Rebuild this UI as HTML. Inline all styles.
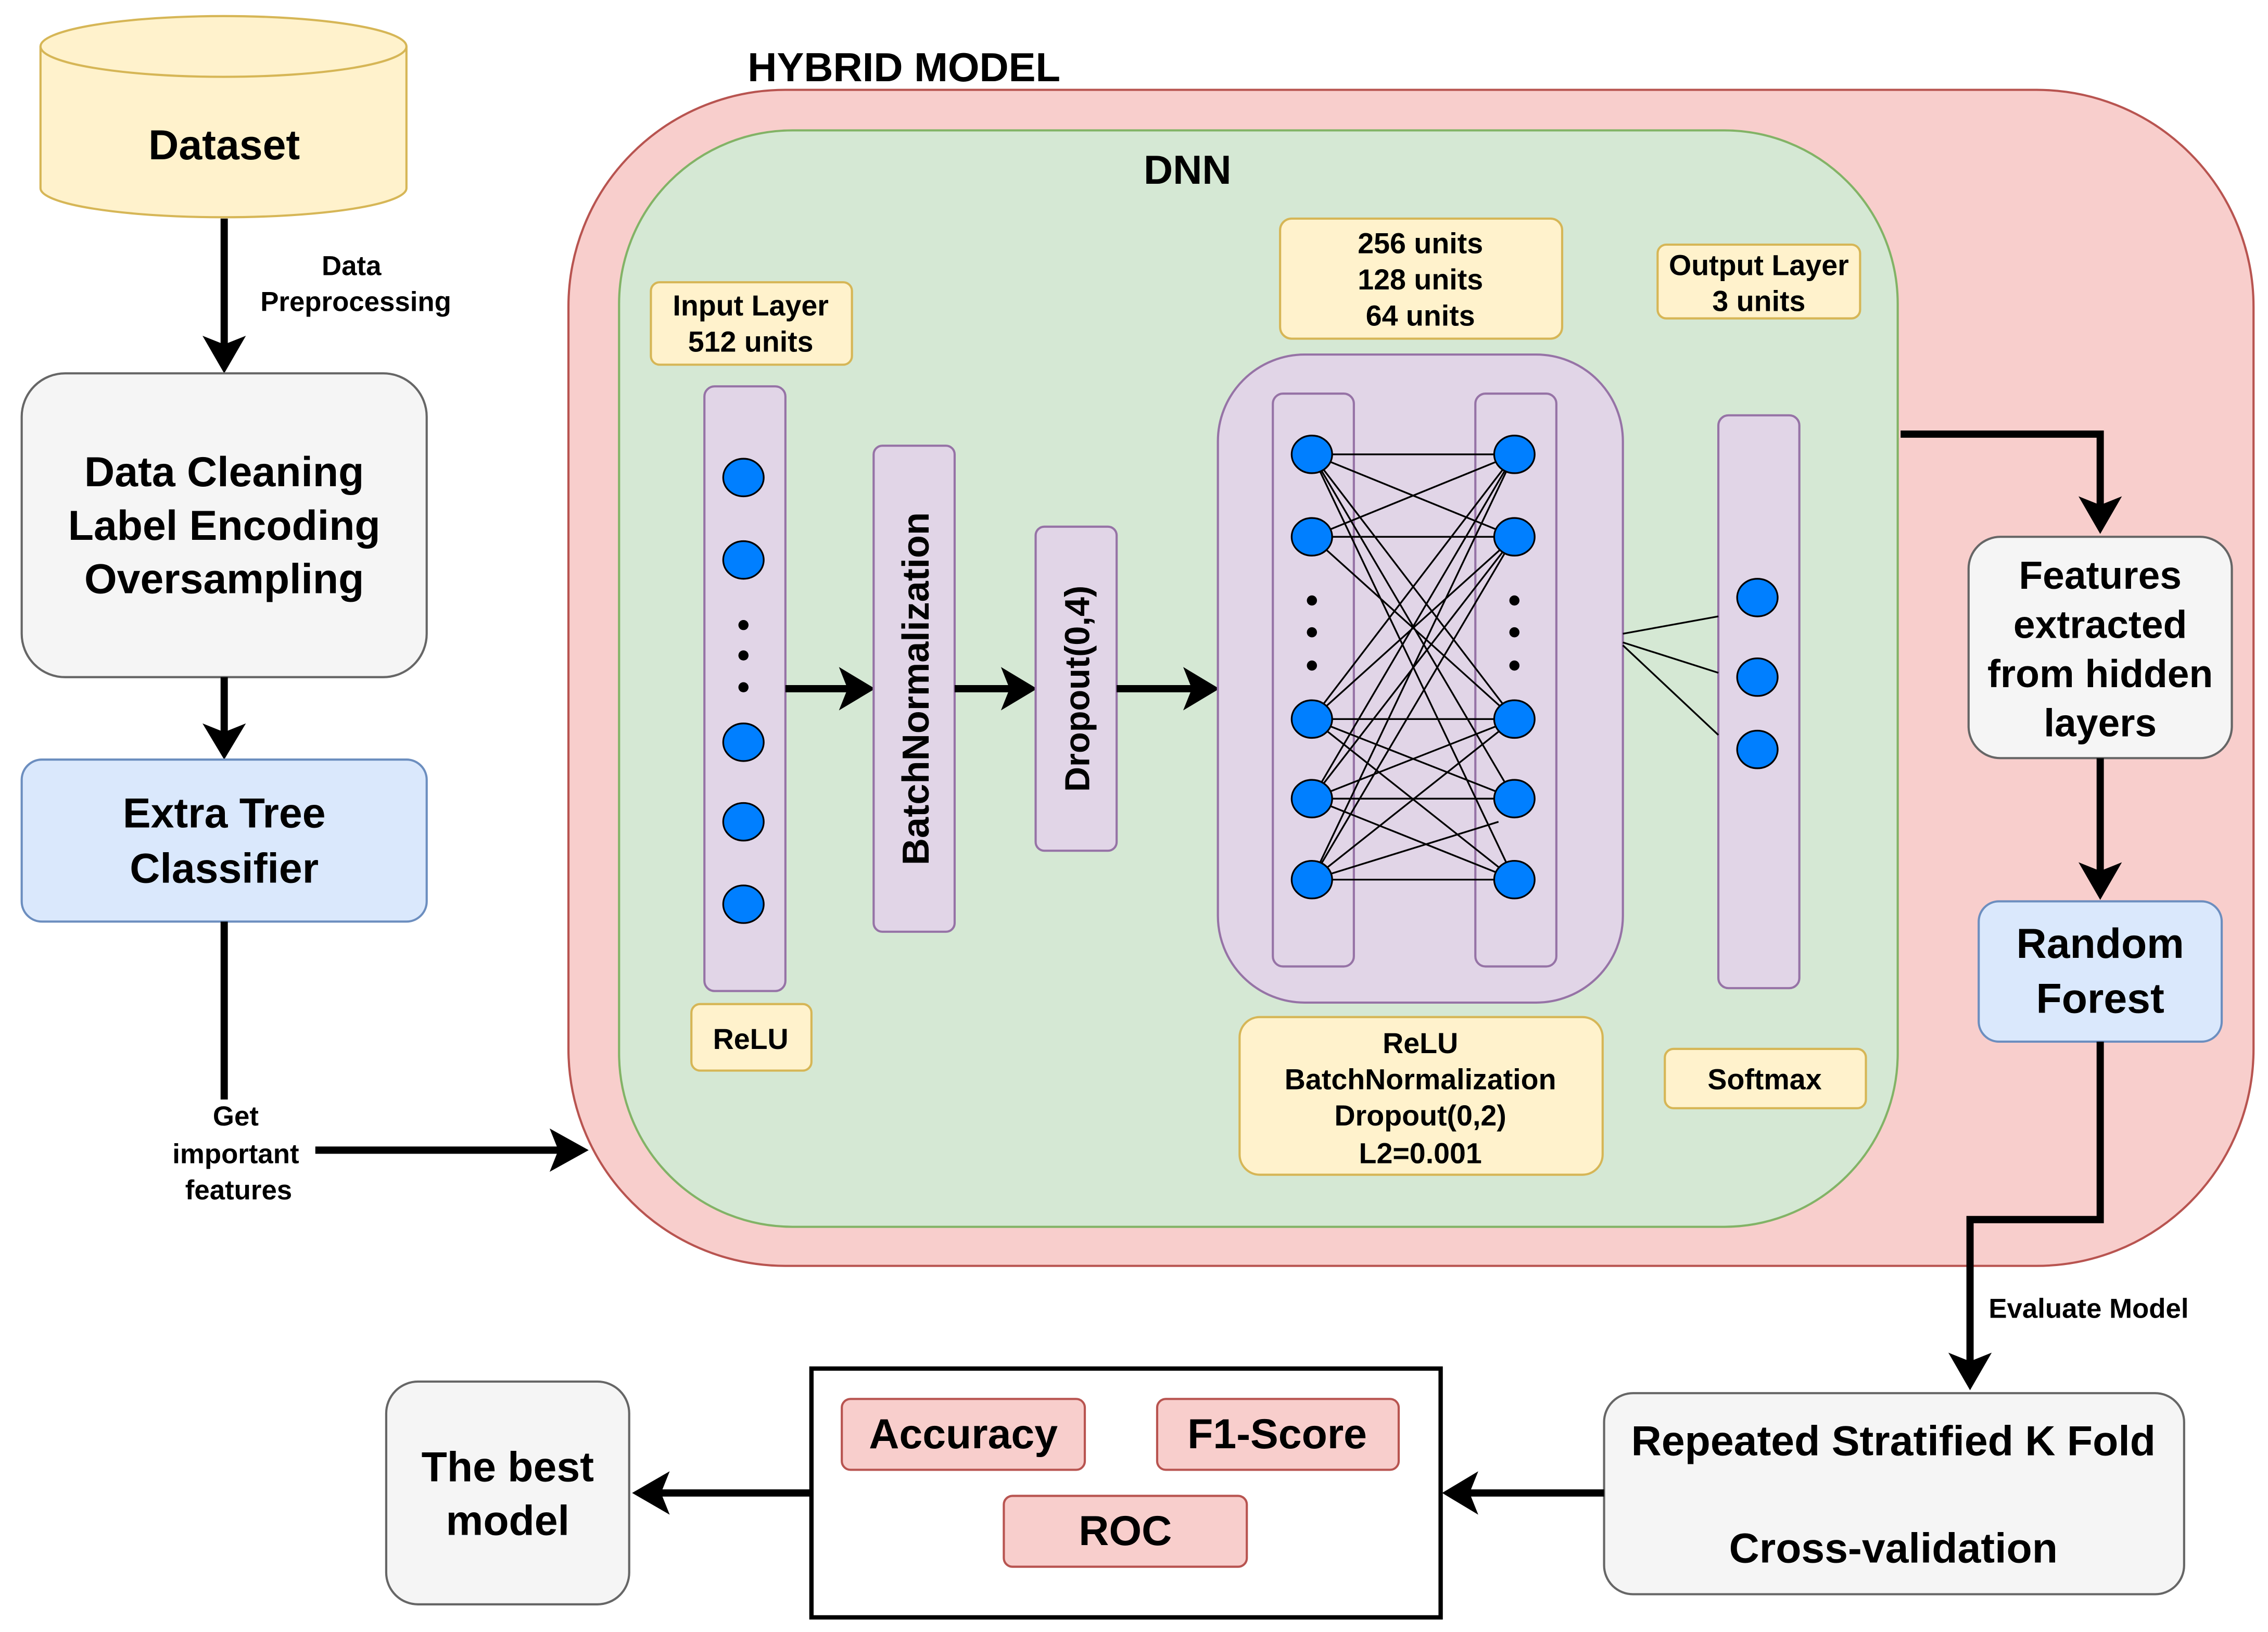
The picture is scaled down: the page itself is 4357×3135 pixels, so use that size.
<!DOCTYPE html>
<html><head><style>html,body{margin:0;padding:0;background:#fff}svg{display:block}text{font-family:"Liberation Sans",sans-serif;font-weight:bold;fill:#000}</style></head>
<body>
<svg width="4357" height="3135" viewBox="0 0 1568 1128" xmlns="http://www.w3.org/2000/svg">
<defs>
<marker id="ah" markerWidth="10" markerHeight="10" refX="6" refY="5" orient="auto" markerUnits="userSpaceOnUse" viewBox="0 0 10 10"><path d="M0,0 L10,5 L0,10 L3,5 Z" fill="#000"/></marker>
</defs>
<rect width="1568" height="1128" fill="#fff"/>
<!-- Dataset cylinder -->
<path d="M28,32 L28,130 A126,20 0 0 0 281,130 L281,32" fill="#fff2cc" stroke="#d6b656" stroke-width="1.5"/>
<ellipse cx="154.5" cy="32" rx="126.5" ry="21" fill="#fff2cc" stroke="#d6b656" stroke-width="1.5"/>
<text x="155" y="110" font-size="29" text-anchor="middle">Dataset</text>
<line x1="155" y1="151" x2="155" y2="238" stroke="#000" stroke-width="5"/>
<path d="M140,232 L155,258 L170,232 L155,238Z"/>
<text x="243" y="190" font-size="19" text-anchor="middle">Data</text>
<text x="246" y="215" font-size="19" text-anchor="middle">Preprocessing</text>
<rect x="15" y="258" width="280" height="210" rx="30" fill="#f5f5f5" stroke="#666" stroke-width="1.5"/>
<text x="155" y="336" font-size="29" text-anchor="middle">Data Cleaning</text>
<text x="155" y="373" font-size="29" text-anchor="middle">Label Encoding</text>
<text x="155" y="410" font-size="29" text-anchor="middle">Oversampling</text>
<line x1="155" y1="468" x2="155" y2="508" stroke="#000" stroke-width="5"/>
<path d="M140,500 L155,525 L170,500 L155,506Z"/>
<rect x="15" y="525" width="280" height="112" rx="14" fill="#dae8fc" stroke="#6c8ebf" stroke-width="1.5"/>
<text x="155" y="572" font-size="29" text-anchor="middle">Extra Tree</text>
<text x="155" y="610" font-size="29" text-anchor="middle">Classifier</text>
<line x1="155" y1="637" x2="155" y2="760" stroke="#000" stroke-width="5"/>
<text x="163" y="778" font-size="19" text-anchor="middle">Get</text>
<text x="163" y="804" font-size="19" text-anchor="middle">important</text>
<text x="165" y="829" font-size="19" text-anchor="middle">features</text>
<line x1="218" y1="795" x2="388" y2="795" stroke="#000" stroke-width="5"/>
<path d="M380,780 L407,795 L380,810 L386,795Z"/>
<!-- Hybrid -->
<text x="625" y="56" font-size="28" text-anchor="middle">HYBRID MODEL</text>
<rect x="393" y="62" width="1165" height="813" rx="150" fill="#f8cecc" stroke="#b85450" stroke-width="1.5"/>
<rect x="428" y="90" width="884" height="758" rx="120" fill="#d5e8d4" stroke="#82b366" stroke-width="1.5"/>
<text x="821" y="127" font-size="28" text-anchor="middle">DNN</text>
<!-- input -->
<rect x="450" y="195" width="139" height="57" rx="6" fill="#fff2cc" stroke="#d6b656" stroke-width="1.5"/>
<text x="519" y="218" font-size="20" text-anchor="middle">Input Layer</text>
<text x="519" y="243" font-size="20" text-anchor="middle">512 units</text>
<rect x="487" y="267" width="56" height="418" rx="7" fill="#e1d5e7" stroke="#9673a6" stroke-width="1.5"/>
<g fill="#007fff" stroke="#000" stroke-width="1.2">
<ellipse cx="514" cy="330" rx="14" ry="13"/><ellipse cx="514" cy="387" rx="14" ry="13"/><ellipse cx="514" cy="513" rx="14" ry="13"/><ellipse cx="514" cy="568" rx="14" ry="13"/><ellipse cx="514" cy="625" rx="14" ry="13"/>
</g>
<g fill="#000"><circle cx="514" cy="432" r="3.5"/><circle cx="514" cy="453" r="3.5"/><circle cx="514" cy="475" r="3.5"/></g>
<rect x="478" y="694" width="83" height="46" rx="6" fill="#fff2cc" stroke="#d6b656" stroke-width="1.5"/>
<text x="519" y="725" font-size="20" text-anchor="middle">ReLU</text>
<line x1="543" y1="476" x2="588" y2="476" stroke="#000" stroke-width="5"/>
<path d="M580,461 L605,476 L580,491 L586,476Z"/>
<rect x="604" y="308" width="56" height="336" rx="6" fill="#e1d5e7" stroke="#9673a6" stroke-width="1.5"/>
<text transform="translate(642,476) rotate(-90)" font-size="26" text-anchor="middle">BatchNormalization</text>
<line x1="660" y1="476" x2="700" y2="476" stroke="#000" stroke-width="5"/>
<path d="M692,461 L717,476 L692,491 L698,476Z"/>
<rect x="716" y="364" width="56" height="224" rx="6" fill="#e1d5e7" stroke="#9673a6" stroke-width="1.5"/>
<text transform="translate(753,476) rotate(-90)" font-size="24" text-anchor="middle">Dropout(0,4)</text>
<line x1="772" y1="476" x2="826" y2="476" stroke="#000" stroke-width="5"/>
<path d="M818,461 L843,476 L818,491 L824,476Z"/>
<!-- hidden -->
<rect x="885" y="151" width="195" height="83" rx="8" fill="#fff2cc" stroke="#d6b656" stroke-width="1.5"/>
<text x="982" y="175" font-size="20" text-anchor="middle">256 units</text>
<text x="982" y="200" font-size="20" text-anchor="middle">128 units</text>
<text x="982" y="225" font-size="20" text-anchor="middle">64 units</text>
<rect x="842" y="245" width="280" height="448" rx="60" fill="#e1d5e7" stroke="#9673a6" stroke-width="1.5"/>
<rect x="880" y="272" width="56" height="396" rx="7" fill="#e1d5e7" stroke="#9673a6" stroke-width="1.5"/>
<rect x="1020" y="272" width="56" height="396" rx="7" fill="#e1d5e7" stroke="#9673a6" stroke-width="1.5"/>
<g stroke="#000" stroke-width="1.2">
<path d="M907,314 L1047,314 M907,314 L1047,371 M907,314 L1047,497 M907,314 L1047,552 M907,314 L1047,608
M907,371 L1047,314 M907,371 L1047,371 M907,371 L1047,497
M907,497 L1047,314 M907,497 L1047,371 M907,497 L1047,497 M907,497 L1047,552 M907,497 L1047,608
M907,552 L1047,314 M907,552 L1047,371 M907,552 L1047,497 M907,552 L1047,552 M907,552 L1047,608
M907,608 L1047,314 M907,608 L1047,371 M907,608 L1047,497 M907,608 L1047,608 M907,608 L1036,568"/>
</g>
<g fill="#007fff" stroke="#000" stroke-width="1.2">
<ellipse cx="907" cy="314" rx="14" ry="13"/><ellipse cx="907" cy="371" rx="14" ry="13"/><ellipse cx="907" cy="497" rx="14" ry="13"/><ellipse cx="907" cy="552" rx="14" ry="13"/><ellipse cx="907" cy="608" rx="14" ry="13"/>
<ellipse cx="1047" cy="314" rx="14" ry="13"/><ellipse cx="1047" cy="371" rx="14" ry="13"/><ellipse cx="1047" cy="497" rx="14" ry="13"/><ellipse cx="1047" cy="552" rx="14" ry="13"/><ellipse cx="1047" cy="608" rx="14" ry="13"/>
</g>
<g fill="#000"><circle cx="907" cy="415" r="3.5"/><circle cx="907" cy="437" r="3.5"/><circle cx="907" cy="460" r="3.5"/><circle cx="1047" cy="415" r="3.5"/><circle cx="1047" cy="437" r="3.5"/><circle cx="1047" cy="460" r="3.5"/></g>
<rect x="857" y="703" width="251" height="109" rx="14" fill="#fff2cc" stroke="#d6b656" stroke-width="1.5"/>
<text x="982" y="728" font-size="20" text-anchor="middle">ReLU</text>
<text x="982" y="753" font-size="20" text-anchor="middle">BatchNormalization</text>
<text x="982" y="778" font-size="20" text-anchor="middle">Dropout(0,2)</text>
<text x="982" y="804" font-size="20" text-anchor="middle">L2=0.001</text>
<!-- output -->
<rect x="1146" y="169" width="140" height="51" rx="6" fill="#fff2cc" stroke="#d6b656" stroke-width="1.5"/>
<text x="1216" y="190" font-size="20" text-anchor="middle">Output Layer</text>
<text x="1216" y="215" font-size="20" text-anchor="middle">3 units</text>
<rect x="1188" y="287" width="56" height="396" rx="7" fill="#e1d5e7" stroke="#9673a6" stroke-width="1.5"/>
<g stroke="#000" stroke-width="1.2"><path d="M1122,438 L1188,426 M1122,444 L1188,465 M1122,446 L1188,508"/></g>
<g fill="#007fff" stroke="#000" stroke-width="1.2">
<ellipse cx="1215" cy="413" rx="14" ry="13"/><ellipse cx="1215" cy="468" rx="14" ry="13"/><ellipse cx="1215" cy="518" rx="14" ry="13"/>
</g>
<rect x="1151" y="725" width="139" height="41" rx="6" fill="#fff2cc" stroke="#d6b656" stroke-width="1.5"/>
<text x="1220" y="753" font-size="20" text-anchor="middle">Softmax</text>
<!-- right flow -->
<path d="M1314,300 L1452,300 L1452,350" fill="none" stroke="#000" stroke-width="5"/>
<path d="M1437,343 L1452,369 L1467,343 L1452,349Z"/>
<rect x="1361" y="371" width="182" height="153" rx="22" fill="#f5f5f5" stroke="#666" stroke-width="1.5"/>
<text x="1452" y="407" font-size="27" text-anchor="middle">Features</text>
<text x="1452" y="441" font-size="27" text-anchor="middle">extracted</text>
<text x="1452" y="475" font-size="27" text-anchor="middle">from hidden</text>
<text x="1452" y="509" font-size="27" text-anchor="middle">layers</text>
<line x1="1452" y1="524" x2="1452" y2="603" stroke="#000" stroke-width="5"/>
<path d="M1437,596 L1452,622 L1467,596 L1452,602Z"/>
<rect x="1368" y="623" width="168" height="97" rx="14" fill="#dae8fc" stroke="#6c8ebf" stroke-width="1.5"/>
<text x="1452" y="662" font-size="29" text-anchor="middle">Random</text>
<text x="1452" y="700" font-size="29" text-anchor="middle">Forest</text>
<path d="M1452,720 L1452,843 L1362,843 L1362,942" fill="none" stroke="#000" stroke-width="5"/>
<path d="M1347,935 L1362,961 L1377,935 L1362,941Z"/>
<text x="1444" y="911" font-size="19" text-anchor="middle">Evaluate Model</text>
<rect x="1109" y="963" width="401" height="139" rx="20" fill="#f5f5f5" stroke="#666" stroke-width="1.5"/>
<text x="1309" y="1006" font-size="29" text-anchor="middle">Repeated Stratified K Fold</text>
<text x="1309" y="1080" font-size="29" text-anchor="middle">Cross-validation</text>
<line x1="1109" y1="1032" x2="1014" y2="1032" stroke="#000" stroke-width="5"/>
<path d="M1022,1017 L997,1032 L1022,1047 L1016,1032Z"/>
<rect x="561" y="946" width="435" height="172" fill="#fff" stroke="#000" stroke-width="3"/>
<rect x="582" y="967" width="168" height="49" rx="6" fill="#f8cecc" stroke="#b85450" stroke-width="1.5"/>
<text x="666" y="1001" font-size="29" text-anchor="middle">Accuracy</text>
<rect x="800" y="967" width="167" height="49" rx="6" fill="#f8cecc" stroke="#b85450" stroke-width="1.5"/>
<text x="883" y="1001" font-size="29" text-anchor="middle">F1-Score</text>
<rect x="694" y="1034" width="168" height="49" rx="6" fill="#f8cecc" stroke="#b85450" stroke-width="1.5"/>
<text x="778" y="1068" font-size="29" text-anchor="middle">ROC</text>
<line x1="561" y1="1032" x2="455" y2="1032" stroke="#000" stroke-width="5"/>
<path d="M463,1017 L437,1032 L463,1047 L457,1032Z"/>
<rect x="267" y="955" width="168" height="154" rx="22" fill="#f5f5f5" stroke="#666" stroke-width="1.5"/>
<text x="351" y="1024" font-size="29" text-anchor="middle">The best</text>
<text x="351" y="1061" font-size="29" text-anchor="middle">model</text>
</svg>
</body></html>
